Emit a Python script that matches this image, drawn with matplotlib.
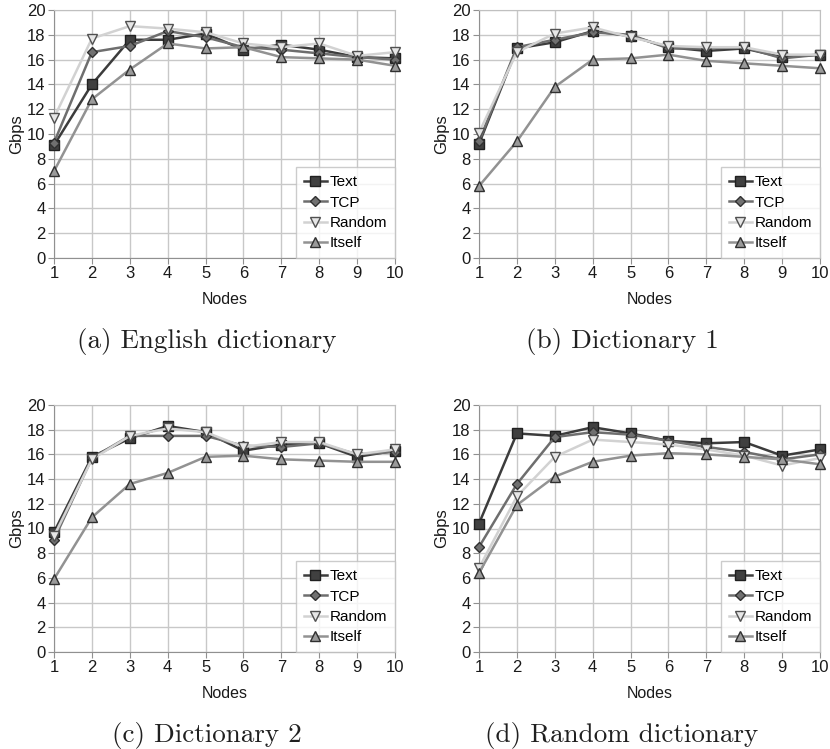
import matplotlib
matplotlib.use("Agg")
import matplotlib.pyplot as plt
import numpy as np

nodes = [1, 2, 3, 4, 5, 6, 7, 8, 9, 10]
series_names = ["Text", "TCP", "Random", "Itself"]

a_text = [9.1, 14.0, 17.6, 17.6, 18.1, 16.8, 17.2, 16.8, 16.2, 16.1]
a_tcp = [9.3, 16.6, 17.1, 18.3, 17.8, 17.0, 16.8, 16.5, 16.2, 16.0]
a_random = [11.3, 17.7, 18.7, 18.5, 18.2, 17.3, 17.0, 17.3, 16.3, 16.6]
a_itself = [7.0, 12.8, 15.2, 17.3, 16.9, 17.0, 16.2, 16.1, 16.0, 15.5]

b_text = [9.2, 16.9, 17.4, 18.3, 17.9, 17.0, 16.7, 16.9, 16.2, 16.4]
b_tcp = [9.4, 17.0, 17.6, 18.2, 18.0, 16.9, 16.9, 17.0, 16.1, 16.4]
b_random = [10.1, 16.6, 18.1, 18.6, 17.8, 17.1, 17.0, 17.0, 16.4, 16.4]
b_itself = [5.8, 9.4, 13.8, 16.0, 16.1, 16.4, 15.9, 15.7, 15.5, 15.3]

c_text = [9.7, 15.8, 17.3, 18.3, 17.8, 16.3, 16.8, 16.9, 15.8, 16.3]
c_tcp = [9.1, 15.7, 17.5, 17.5, 17.5, 16.7, 16.6, 16.9, 16.0, 16.2]
c_random = [9.4, 15.6, 17.5, 18.1, 17.8, 16.6, 17.0, 17.0, 16.0, 16.4]
c_itself = [5.9, 10.9, 13.6, 14.5, 15.8, 15.9, 15.6, 15.5, 15.4, 15.4]

d_text = [10.4, 17.7, 17.5, 18.2, 17.7, 17.1, 16.9, 17.0, 15.9, 16.4]
d_tcp = [8.5, 13.6, 17.4, 17.8, 17.6, 17.1, 16.6, 16.2, 15.6, 16.0]
d_random = [6.8, 12.6, 15.8, 17.2, 17.0, 16.8, 16.4, 15.9, 15.1, 15.7]
d_itself = [6.4, 11.9, 14.2, 15.4, 15.9, 16.1, 16.0, 15.8, 15.6, 15.2]

captions = ["(a) English dictionary", "(b) Dictionary 1",
            "(c) Dictionary 2", "(d) Random dictionary"]

panels = [
    [a_text, a_tcp, a_random, a_itself],
    [b_text, b_tcp, b_random, b_itself],
    [c_text, c_tcp, c_random, c_itself],
    [d_text, d_tcp, d_random, d_itself],
]

styles = [
    dict(color="#3c3c3c", marker="s", markersize=7.5, markerfacecolor="#404040",
         markeredgecolor="#202020", lw=1.8),
    dict(color="#6e6e6e", marker="D", markersize=5.5, markerfacecolor="#707070",
         markeredgecolor="#303030", lw=1.8),
    dict(color="#d2d2d2", marker="v", markersize=7.5, markerfacecolor="#e6e6e6",
         markeredgecolor="#505050", lw=1.8),
    dict(color="#929292", marker="^", markersize=7.5, markerfacecolor="#9a9a9a",
         markeredgecolor="#303030", lw=1.8),
]

plt.rcParams['font.family'] = ['Liberation Sans', 'DejaVu Sans']

fig = plt.figure(figsize=(8.30, 7.49), dpi=100)
W, H = 830, 749
boxes = [
    (54, 10, 395, 258),
    (479, 10, 820, 258),
    (54, 405, 395, 652),
    (479, 405, 820, 652),
]
caption_x = [207, 622, 207, 622]

for idx, (box, data) in enumerate(zip(boxes, panels)):
    x0, y0, x1, y1 = box
    ax = fig.add_axes([x0 / W, 1 - y1 / H, (x1 - x0) / W, (y1 - y0) / H])
    for name, vals, st in zip(series_names, data, styles):
        ax.plot(nodes, vals, label=name, clip_on=False, zorder=3, **st)
    ax.set_xlim(1, 10)
    ax.set_ylim(0, 20)
    ax.set_xticks(nodes)
    ax.set_yticks(np.arange(0, 21, 2))
    ax.grid(True, color="#c8c8c8", lw=1.0)
    ax.set_axisbelow(True)
    for s in ax.spines.values():
        s.set_color("#c0c0c0")
    ax.spines['left'].set_color("#909090")
    ax.spines['bottom'].set_color("#909090")
    ax.tick_params(axis='both', labelsize=12, color="#909090", length=4,
                   labelcolor="#1a1a1a", pad=2)
    ax.set_xlabel("Nodes", fontsize=11.5, color="#1a1a1a", labelpad=8)
    ax.set_ylabel("Gbps", fontsize=12, color="#1a1a1a", labelpad=2)
    leg = ax.legend(loc="lower right", fontsize=11, frameon=True, fancybox=False,
                    borderaxespad=0, handlelength=1.5, handletextpad=0.2,
                    labelspacing=0.42, borderpad=0.5)
    leg.get_frame().set_edgecolor("#c0c0c0")
    leg.get_frame().set_linewidth(1.0)
    fig.text(caption_x[idx] / W, 1 - (y1 + 90) / H, captions[idx], family="cmr10",
             fontsize=19.5, ha="center", va="baseline", color="#202020")

fig.savefig("out.png", dpi=100)
